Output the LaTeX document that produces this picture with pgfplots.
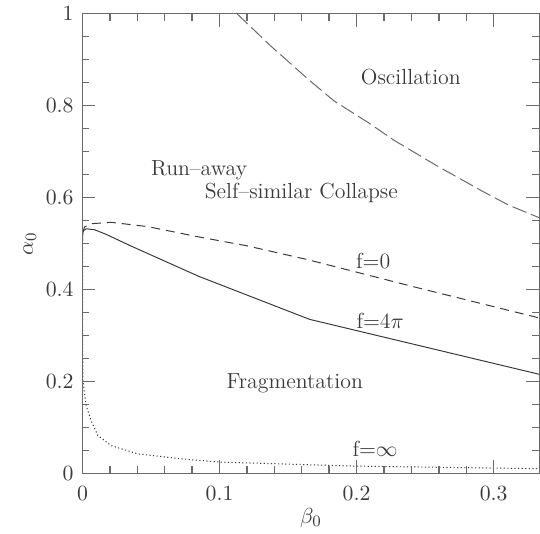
\documentclass[border=0pt]{standalone}
\usepackage{pgfplots}
\pgfplotsset{compat=1.18}
\definecolor{ink}{HTML}{3A3A3A}
\definecolor{axgray}{HTML}{6A6A6A}
\begin{document}%
\begin{tikzpicture}[font=\fontsize{11}{13}\selectfont]
\begin{axis}[
    scale only axis,
    width=229.5bp, height=231bp,
    xmin=0, xmax=0.33333,
    ymin=0, ymax=1,
    xtick={0,0.1,0.2,0.3},
    ytick={0,0.2,0.4,0.6,0.8,1},
    minor x tick num=4,
    minor y tick num=3,
    tick align=inside,
    major tick length=6.5bp,
    minor tick length=3.5bp,
    axis on top,
    axis line style={axgray, line width=0.6pt},
    major tick style={axgray, line width=0.7pt},
    minor tick style={axgray, line width=0.7pt},
    tick label style={ink, font=\fontsize{11}{13}\selectfont},
    xticklabel style={yshift=-3bp},
    yticklabel style={xshift=-1bp},
    xlabel={$\beta_0$},
    ylabel={$\alpha_0$},
    label style={ink, font=\fontsize{11}{13}\selectfont},
    xlabel style={yshift=3bp},
    ylabel style={yshift=-2bp},
    clip=false,
]
% f = 4 pi (solid)
\addplot[ink, line width=0.5pt] coordinates {
    (0,0.505) (0.0003,0.527) (0.0027,0.532) (0.0087,0.530) (0.0172,0.520)
    (0.0353,0.4946) (0.0848,0.4286) (0.1657,0.335) (0.3333,0.2155)
};
% f = 0 (short dash)
\addplot[ink, line width=0.5pt, dash pattern=on 4.5bp off 3bp] coordinates {
    (0,0.522) (0.0015,0.536) (0.0063,0.543) (0.0208,0.5461) (0.0474,0.5368)
    (0.0836,0.515) (0.1199,0.495) (0.1645,0.4647) (0.2455,0.403) (0.3333,0.338)
};
% f = infinity (dotted)
\addplot[ink, line width=0.5pt, dash pattern=on 0.6bp off 1.2bp] coordinates {
    (0,0.50) (0.0001,0.30) (0.0003,0.2013) (0.0027,0.147) (0.0063,0.1147)
    (0.0112,0.0822) (0.0208,0.0606) (0.0401,0.0426) (0.0715,0.0318)
    (0.1005,0.0245) (0.1996,0.0158) (0.3333,0.0102)
};
% oscillation boundary (long dash)
\addplot[axgray, line width=0.5pt, dash pattern=on 7.5bp off 2.5bp] coordinates {
    (0.1126,1.0) (0.1372,0.930) (0.1657,0.8545) (0.1838,0.8095) (0.209,0.762)
    (0.2273,0.7245) (0.2599,0.6667) (0.2925,0.6126) (0.3107,0.5838) (0.3333,0.556)
};
\node[ink] at (axis cs:0.2396,0.861) {Oscillation};
\node[ink, anchor=west] at (axis cs:0.045,0.660) {Run--away};
\node[ink] at (axis cs:0.1597,0.609) {Self--similar Collapse};
\node[ink] at (axis cs:0.2121,0.461) {f$=$0};
\node[ink] at (axis cs:0.2172,0.331) {f$=$4$\pi$};
\node[ink] at (axis cs:0.1549,0.195) {Fragmentation};
\node[ink] at (axis cs:0.2135,0.0535) {f$=${$\infty$}};
\end{axis}
\path ([xshift=-8.5bp]current bounding box.west) rectangle (current bounding box.east);
\end{tikzpicture}%
\end{document}
